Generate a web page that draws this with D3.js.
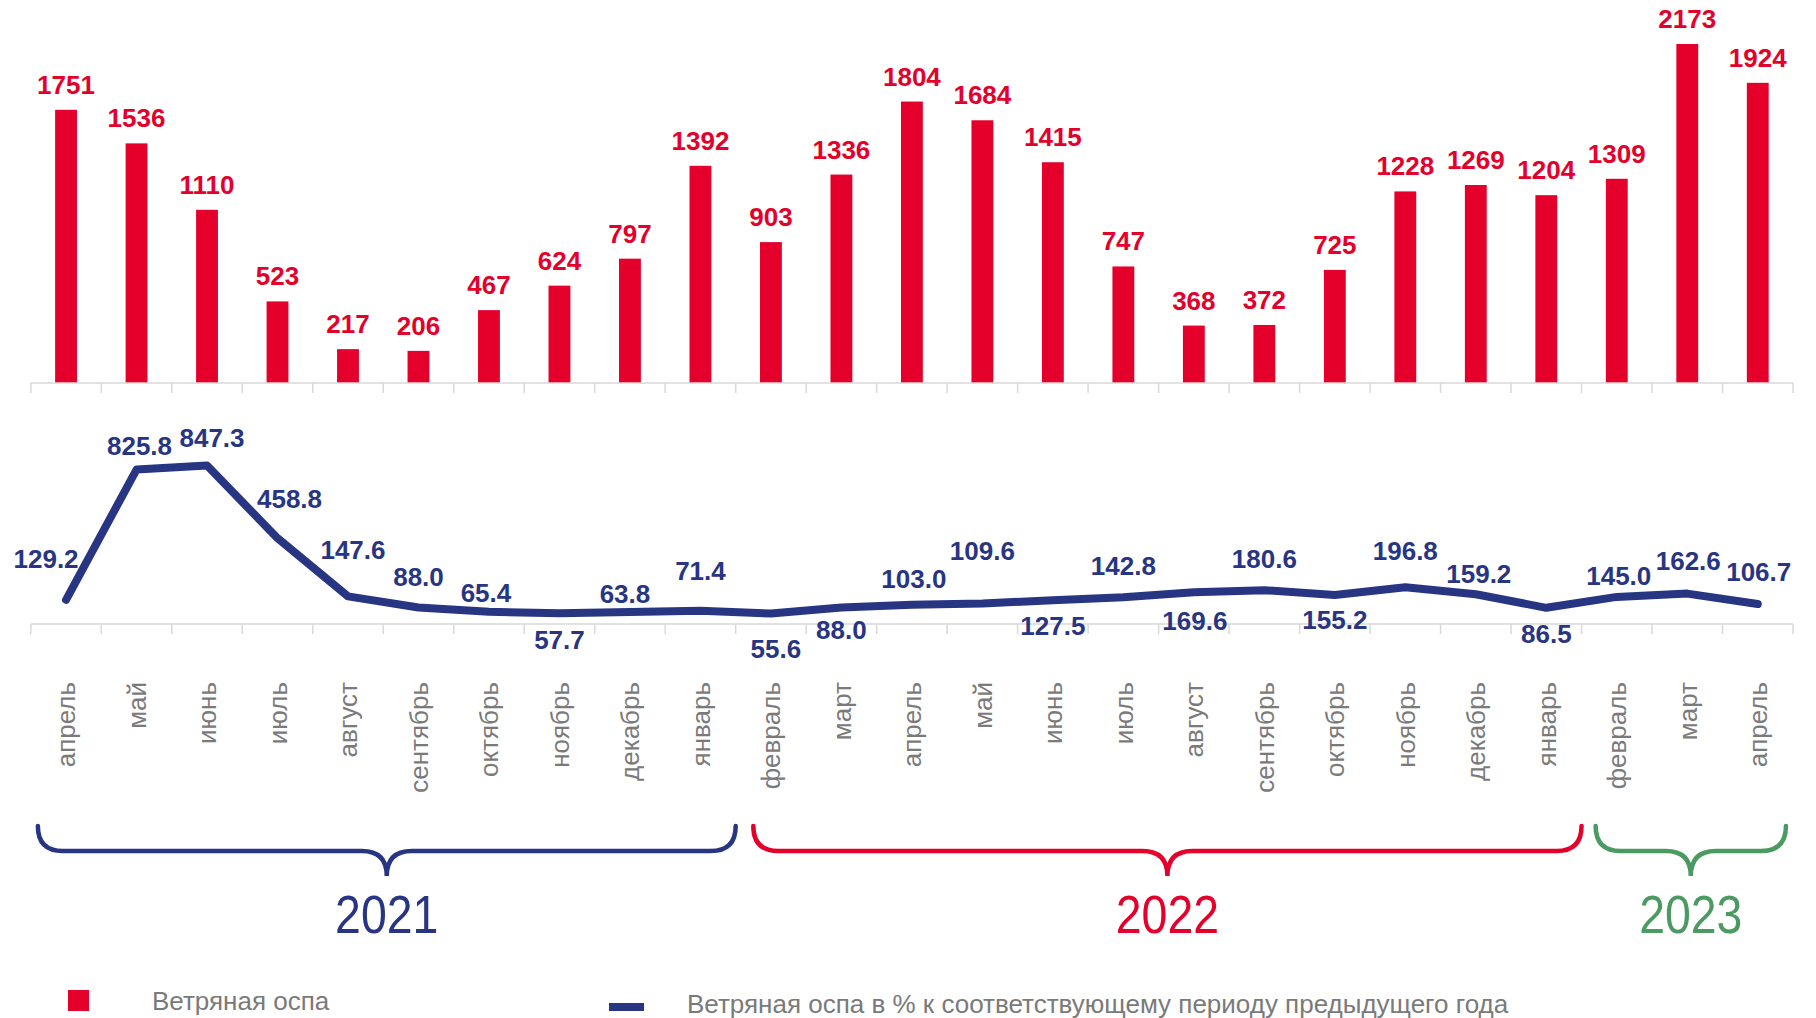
<!DOCTYPE html>
<html><head><meta charset="utf-8">
<script src="https://cdn.jsdelivr.net/npm/d3@7"></script>
<style>body{margin:0;background:#fff}svg{display:block}</style>
</head><body>
<svg id="c" width="1816" height="1018"></svg>
<script>
const months = ["апрель","май","июнь","июль","август","сентябрь","октябрь","ноябрь","декабрь","январь","февраль","март","апрель","май","июнь","июль","август","сентябрь","октябрь","ноябрь","декабрь","январь","февраль","март","апрель"];
const cases = [1751,1536,1110,523,217,206,467,624,797,1392,903,1336,1804,1684,1415,747,368,372,725,1228,1269,1204,1309,2173,1924];
const percent = [129.2,825.8,847.3,458.8,147.6,88.0,65.4,57.7,63.8,71.4,55.6,88.0,103.0,109.6,127.5,142.8,169.6,180.6,155.2,196.8,159.2,86.5,145.0,162.6,106.7];
// label offsets (layout) for the percent labels, relative to the point
const pctLabelOffsets = [[-20,-41],[3,-24],[5,-28],[12,-40],[5,-47],[0,-31],[-3,-19],[0,26],[-5,-18],[0,-40],[5,35],[0,22],[2,-26],[0,-53],[0,25],[0,-32],[1,28],[0,-32],[0,25],[0,-37],[3,-21],[0,26],[2,-21],[1,-33],[1,-32]];
const years = ["2021","2022","2023"];
const yearSpans = [[-0.4,9.5],[9.75,21.5],[21.7,24.4]];
const yearColors = ["#283583","#e4002b","#4a9a62"];
const legendLabels = ["Ветряная оспа","Ветряная оспа в % к соответствующему периоду предыдущего года"];

const RED="#e4002b", BLUE="#283583", GRAY="#7a7a7a", AXIS="#d9d9d9";
const FONT="'Liberation Sans', Arial, sans-serif";
const svg = d3.select("#c");
const idx = d3.range(months.length);
const x = d3.scalePoint().domain(idx).range([30.8,1793]).padding(0.5);
const step = x.step();
const y1 = d3.scaleLinear().domain([0,2200]).range([383,383-2200*0.15601]);
const y2 = d3.scaleLinear().domain([0,900]).range([624,624-900*0.187]);

function axisAt(y){
  const g = svg.append("g");
  g.append("line").attr("x1",x(0)-step/2).attr("x2",x(months.length-1)+step/2).attr("y1",y).attr("y2",y).attr("stroke",AXIS).attr("stroke-width",1.5);
  g.selectAll("line.t").data(d3.range(months.length+1)).join("line").attr("class","t")
    .attr("x1",d=>x(0)-step/2+d*step).attr("x2",d=>x(0)-step/2+d*step)
    .attr("y1",y).attr("y2",y+10).attr("stroke",AXIS).attr("stroke-width",1.5);
}
// bars
const bw = step*0.31;
svg.append("g").selectAll("rect").data(cases).join("rect")
  .attr("x",(d,i)=>x(i)-bw/2).attr("width",bw)
  .attr("y",d=>y1(d)).attr("height",d=>y1(0)-y1(d)).attr("fill",RED);
axisAt(383);
svg.append("g").selectAll("text").data(cases).join("text")
  .attr("x",(d,i)=>x(i)).attr("y",d=>y1(d)-16)
  .attr("text-anchor","middle").attr("font-family",FONT).attr("font-weight","bold")
  .attr("font-size",26).attr("fill",RED).text(d=>d);

// line
axisAt(624);
svg.append("path").datum(percent)
  .attr("d",d3.line().x((d,i)=>x(i)).y(d=>y2(d)))
  .attr("fill","none").attr("stroke",BLUE).attr("stroke-width",8)
  .attr("stroke-linejoin","round").attr("stroke-linecap","round");
svg.append("g").selectAll("text").data(percent).join("text")
  .attr("x",(d,i)=>x(i)+pctLabelOffsets[i][0]).attr("y",(d,i)=>y2(d)+pctLabelOffsets[i][1])
  .attr("dy","0.36em")
  .attr("text-anchor","middle").attr("font-family",FONT).attr("font-weight","bold")
  .attr("font-size",26).attr("fill",BLUE).text(d=>d.toFixed(1));

// month labels
svg.append("g").selectAll("text").data(months).join("text")
  .attr("transform",(d,i)=>`translate(${x(i)},682) rotate(-90)`)
  .attr("dy","0.36em").attr("text-anchor","end")
  .attr("font-family",FONT).attr("font-size",26).attr("fill",GRAY).text(d=>d);

// braces
const bTop=826, bMid=851, bTip=876, r=25;
years.forEach((yr,k)=>{
  const x0 = x(0)+yearSpans[k][0]*step, x1 = x(0)+yearSpans[k][1]*step, cx=(x0+x1)/2;
  const p = `M${x0},${bTop} Q${x0},${bMid} ${x0+r},${bMid} L${cx-r},${bMid} Q${cx},${bMid} ${cx},${bTip} Q${cx},${bMid} ${cx+r},${bMid} L${x1-r},${bMid} Q${x1},${bMid} ${x1},${bTop}`;
  svg.append("path").attr("d",p).attr("fill","none").attr("stroke",yearColors[k]).attr("stroke-width",4.5).attr("stroke-linecap","round");
  svg.append("text").attr("transform",`translate(${cx},933) scale(0.86,1)`)
    .attr("text-anchor","middle").attr("font-family",FONT).attr("font-size",54)
    .attr("fill",yearColors[k]).text(yr);
});

// legend
svg.append("rect").attr("x",68).attr("y",990).attr("width",21).attr("height",21).attr("fill",RED);
svg.append("text").attr("x",152).attr("y",1010).attr("font-family",FONT).attr("font-size",26).attr("fill",GRAY).text(legendLabels[0]);
svg.append("rect").attr("x",609).attr("y",1003).attr("width",35).attr("height",8).attr("fill",BLUE);
svg.append("text").attr("x",687).attr("y",1013).attr("font-family",FONT).attr("font-size",26).attr("fill",GRAY).text(legendLabels[1]);
</script>
</body></html>
